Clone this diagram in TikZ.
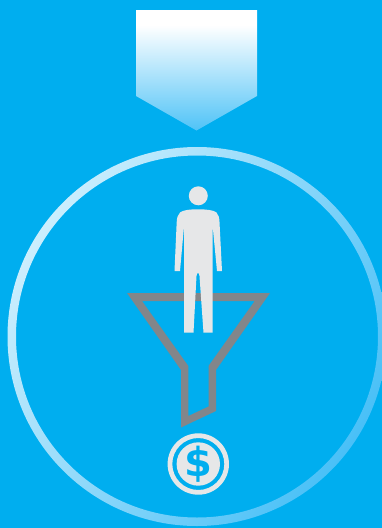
\documentclass[tikz,border=0pt]{standalone}
\usepackage{fontspec}
\setmainfont{DejaVu Sans}
\definecolor{bgblue}{HTML}{00AEEF}
\definecolor{personc}{HTML}{E6E7E8}
\definecolor{funnelc}{HTML}{82868A}
\definecolor{ringa}{HTML}{CBEEFD}
\definecolor{ringb}{HTML}{49C0F7}
\definecolor{shieldb}{HTML}{4FC3F7}
\pgfdeclareverticalshading{shieldshade}{100bp}{color(0bp)=(shieldb); color(25bp)=(shieldb); color(68.75bp)=(white); color(100bp)=(white)}
\tikzset{
  personfill/.style={fill=personc,draw=none},
  funnelfill/.style={fill=funnelc,draw=none,even odd rule},
  ringshade/.style={even odd rule,draw=none,top color=ringa,bottom color=ringb,shading angle=57}
}
\begin{document}
\begin{tikzpicture}[x=1pt,y=-1pt]
\useasboundingbox (0,0) rectangle (382,528);
\fill[bgblue] (0,0) rectangle (382,528);
% shield
\shade[shading=shieldshade] (136,10) -- (257,10) -- (257,96) -- (196.5,130.5) -- (136,96) -- cycle;
% ring
\begin{scope}
\clip (0,0) rectangle (382,528);
\shade[ringshade] (197,336.5) circle[radius=189.5] (197,336.5) circle[radius=181];
\end{scope}
% funnel
\fill[funnelfill]
  (127,293) -- (270,293) -- (216,370) -- (216,411) -- (181,427.5) -- (181,370) -- cycle
  (142,301) -- (254.7,301) -- (208.5,366) -- (208.5,406.5) -- (188.3,416) -- (188.3,366) -- cycle;
% person
\fill[personfill] (198.3,195.8) circle[radius=9.5];
\fill[personfill]
  (198.3,209.3) .. controls (190,209.3) and (183,210) .. (180,212.5)
  .. controls (177.5,215) and (177,218) .. (176.7,222)
  -- (174.5,271) -- (180,271) -- (184,226.5) -- (184,332.7) -- (193.5,332.7)
  -- (196.5,276) .. controls (197,272) and (199,272) .. (199.5,276)
  -- (203.5,332.7) -- (212.7,332.7) -- (212.7,226.5) -- (217,271) -- (222,271)
  -- (219.5,222) .. controls (219.2,218) and (219,215) .. (216.5,212.5)
  .. controls (213.5,210) and (206,209.3) .. (198.3,209.3) -- cycle;
% coin
\fill[personc,even odd rule] (198.3,464) circle[radius=30.7] (198.3,464) circle[radius=26];
\fill[personc] (198.3,464) circle[radius=21.7];
\node[inner sep=0pt,text=bgblue,font=\bfseries\fontsize{40}{40}\selectfont] (coin) at (198.3,464) {\$};
\end{tikzpicture}
\end{document}
